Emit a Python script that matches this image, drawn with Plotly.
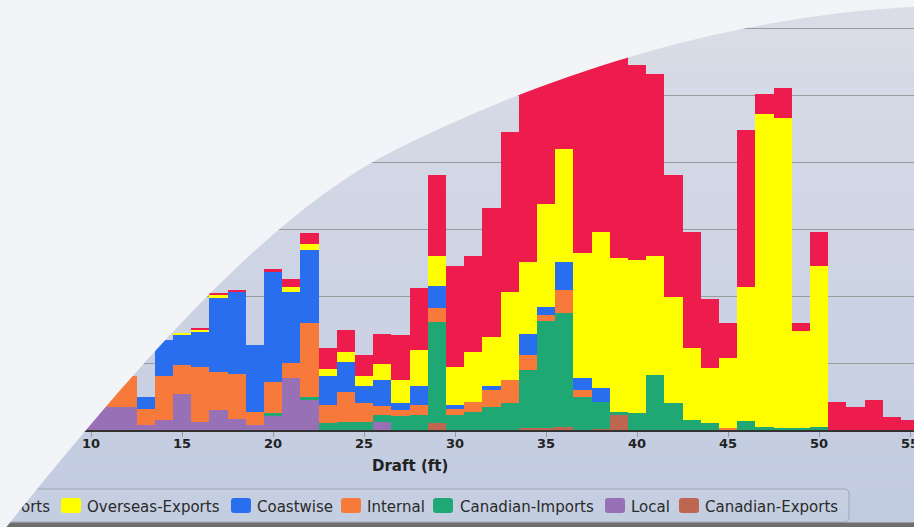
import plotly.graph_objects as go

W, H = 914, 527
AXIS_Y = 430  # pixel row of the x axis

draft = list(range(10, 56))

overseas_imports = [0, 0, 0, 0, 0, 0, 0.3, 0.25, 0.25, 0, 0.4, 1.3, 1.65, 3.2, 3.2, 3.2,
                    4.45, 6.8, 9.2, 12.2, 15.0, 14.4, 19.2, 23.9, 26.4, 18.7, 11.5, 28.5,
                    26.5, 30.4, 29.1, 27.3, 18.2, 17.4, 10.2, 5.1, 23.5, 2.9, 4.6, 1.1,
                    5.1, 4.2, 3.5, 4.5, 2.0, 1.5]
overseas_exports = [0, 0, 0, 0, 0, 0.3, 0.2, 0.5, 0, 0, 0, 0.7, 0.9, 1.05, 1.5, 1.5,
                    2.35, 3.3, 5.4, 4.4, 5.75, 7.4, 7.4, 13.1, 10.7, 15.4, 16.9, 18.7,
                    23.3, 22.9, 22.9, 17.7, 15.9, 10.7, 8.3, 10.5, 19.9, 46.8, 46.2, 14.5,
                    24.1, 0, 0, 0, 0, 0]
coastwise = [0, 0, 0, 1.8, 5.4, 4.5, 5.3, 11.0, 12.2, 10.0, 16.5, 10.6, 11.0, 4.35, 4.5,
             2.5, 3.9, 1.1, 2.8, 3.3, 0.6, 0, 0.5, 0, 3.2, 1.2, 4.2, 1.7, 2.0, 0, 0, 0, 0,
             0, 0, 0, 0, 0, 0, 0, 0, 0, 0, 0, 0, 0]
internal = [1.0, 3.0, 4.5, 2.45, 6.5, 4.3, 8.2, 5.7, 6.7, 2.0, 4.5, 2.3, 10.9, 2.7, 4.5,
            2.8, 1.4, 0.9, 1.6, 2.1, 0.9, 1.5, 2.5, 3.5, 2.2, 1.0, 3.5, 1.0, 0, 0, 0, 0,
            0, 0, 0, 0.3, 0, 0, 0, 0, 0, 0, 0, 0, 0, 0]
canadian_imports = [0, 0, 0, 0, 0, 0, 0, 0, 0, 0, 0.5, 0, 0.5, 1.0, 1.2, 1.2, 1.0, 2.1,
                    2.2, 15.1, 2.2, 2.7, 3.5, 4.0, 8.7, 15.9, 17.0, 5.0, 4.0, 0.4, 2.5,
                    8.2, 4.0, 1.5, 1.0, 0, 1.4, 0.4, 0.3, 0.3, 0.4, 0, 0, 0, 0, 0]
local = [3.0, 3.5, 3.5, 0.75, 1.5, 5.4, 1.2, 3.0, 1.7, 0.75, 2.1, 7.7, 4.5, 0, 0, 0, 1.2,
         0, 0, 0, 0, 0, 0, 0, 0, 0, 0, 0, 0, 0, 0, 0, 0, 0, 0, 0, 0, 0, 0, 0, 0, 0, 0,
         0, 0, 0]
canadian_exports = [0, 0, 0, 0, 0, 0, 0, 0, 0, 0, 0, 0, 0, 0, 0, 0, 0, 0, 0, 1.0, 0, 0,
                    0, 0, 0.3, 0.3, 0.4, 0, 0.2, 2.3, 0, 0, 0, 0, 0, 0, 0, 0, 0, 0, 0, 0,
                    0, 0, 0, 0]

x_ticks = [10, 15, 20, 25, 30, 35, 40, 45, 50, 55]

# legend order (top of stack first), as in the original
series = [
    ("Overseas-Imports", overseas_imports, "#ED1C4C"),
    ("Overseas-Exports", overseas_exports, "#FFFF00"),
    ("Coastwise", coastwise, "#2A6EF0"),
    ("Internal", internal, "#F77A3A"),
    ("Canadian-Imports", canadian_imports, "#1FA873"),
    ("Local", local, "#9870B5"),
    ("Canadian-Exports", canadian_exports, "#BE6650"),
]

px_per_ft = 18.2
px_per_unit = 6.7
X10 = 91  # pixel column of draft = 10


def pxx(x):
    return x / W


def pxy(y):
    return (H - y) / H


def path_px(cmds):
    # cmds: list of (letter, [x, y, x, y, ...]) in pixel coords -> paper path
    out = []
    for letter, pts in cmds:
        coords = []
        for i in range(0, len(pts), 2):
            coords.append("%.5f,%.5f" % (pxx(pts[i]), pxy(pts[i + 1])))
        out.append(letter + " ".join(coords))
    return " ".join(out) + " Z"


fig = go.Figure()
for name, vals, col in reversed(series):
    fig.add_trace(go.Bar(x=draft, y=vals, name=name,
                         marker=dict(color=col, line=dict(width=0))))

shapes = []

# background gradient (bands)
top_c = (0xDA, 0xDD, 0xE7)
bot_c = (0xC1, 0xCB, 0xE0)
n = 30
for i in range(n):
    f = (i + 0.5) / n
    c = tuple(round(a + (b - a) * f) for a, b in zip(top_c, bot_c))
    y0 = H * i / n
    y1 = H * (i + 1) / n + 1
    shapes.append(dict(type="rect", xref="paper", yref="paper", layer="below",
                       x0=0, x1=1, y0=pxy(y1), y1=pxy(y0),
                       fillcolor="rgb(%d,%d,%d)" % c, line=dict(width=0)))

# legend box
shapes.append(dict(type="path", xref="paper", yref="paper", layer="below",
                   path=path_px([("M", [-150, 489]), ("L", [844, 489]),
                                 ("Q", [849, 489, 849, 494]), ("L", [849, 517]),
                                 ("Q", [849, 522, 844, 522]), ("L", [-150, 522])]),
                   fillcolor="rgba(255,255,255,0.06)", line=dict(color="#9EA5B5", width=1)))

swatch_x = [-110, 61, 231, 341, 433, 605, 679]
text_x = [50, 87, 257, 367, 460, 631, 705]
text_pos = ["middle left"] + ["middle right"] * 6
for (name, vals, col), sx in zip(series, swatch_x):
    shapes.append(dict(type="path", xref="paper", yref="paper", layer="below",
                       path=path_px([("M", [sx + 3, 498]), ("L", [sx + 17, 498]),
                                     ("Q", [sx + 20, 498, sx + 20, 501]), ("L", [sx + 20, 510]),
                                     ("Q", [sx + 20, 513, sx + 17, 513]), ("L", [sx + 3, 513]),
                                     ("Q", [sx, 513, sx, 510]), ("L", [sx, 501]),
                                     ("Q", [sx, 498, sx + 3, 498])]),
                       fillcolor=col, line=dict(width=0)))

# legend labels on a pixel-scaled overlay subplot, under the white overlay
fig.add_trace(go.Scatter(
    x=text_x, y=[508] * len(text_x), xaxis="x2", yaxis="y2",
    text=[s[0] for s in series], mode="text", textposition=text_pos,
    textfont=dict(size=15, color="#2A2A2A", family="DejaVu Sans"),
    cliponaxis=False, hoverinfo="skip", showlegend=False))

# dark strip at the bottom
shapes.append(dict(type="rect", xref="paper", yref="paper", layer="above",
                   x0=0, x1=1, y0=pxy(528), y1=pxy(522.5),
                   fillcolor="#6E6E6E", line=dict(width=0)))

# white curved overlay
curve = [("M", [-20, 560]), ("L", [0, 535]),
         ("C", [130, 373, 265, 215, 395, 150]),
         ("C", [545, 75, 730, 14, 930, 6]),
         ("L", [930, -20]), ("L", [-20, -20])]
shapes.append(dict(type="path", xref="paper", yref="paper", layer="above",
                   path=path_px(curve), fillcolor="#F3F4F7", line=dict(width=0)))

annotations = [dict(xref="x", yref="paper", x=27.5, y=pxy(466),
                    xanchor="center", yanchor="middle", showarrow=False,
                    text="Draft (ft)",
                    font=dict(size=15, color="#222222", weight="bold"))]

fig.update_layout(
    width=W, height=H,
    margin=dict(l=0, r=0, t=0, b=0, pad=0, autoexpand=False),
    barmode="stack", bargap=0,
    paper_bgcolor="#D0D5E2", plot_bgcolor="rgba(0,0,0,0)",
    showlegend=False,
    font=dict(family="DejaVu Sans", color="#222222"),
    shapes=shapes, annotations=annotations,
    xaxis=dict(range=[10 - X10 / px_per_ft, 10 + (W - X10) / px_per_ft],
               domain=[0, 1], anchor="y",
               tickvals=x_ticks, ticks="outside", ticklen=5, tickcolor="#9A9A9A",
               ticklabelstandoff=-5, ticklabeloverflow="allow",
               showline=True, linecolor="#333333", linewidth=2,
               showgrid=False, zeroline=False,
               tickfont=dict(size=13, color="#222222", weight="bold")),
    yaxis=dict(range=[0, AXIS_Y / px_per_unit], domain=[(H - AXIS_Y) / H, 1],
               anchor="x", dtick=10, showgrid=True,
               gridcolor="#9B9B9B", gridwidth=1, showticklabels=False,
               zeroline=False, showline=False, ticks=""),
    xaxis2=dict(range=[0, W], domain=[0, 1], anchor="y2", visible=False,
                fixedrange=True),
    yaxis2=dict(range=[H, 0], domain=[0, 1], anchor="x2", visible=False,
                fixedrange=True),
)

fig.write_html("out.html", config=dict(displayModeBar=False),
               post_script="document.body.style.margin='0';"
                           "document.body.style.overflow='hidden';")
